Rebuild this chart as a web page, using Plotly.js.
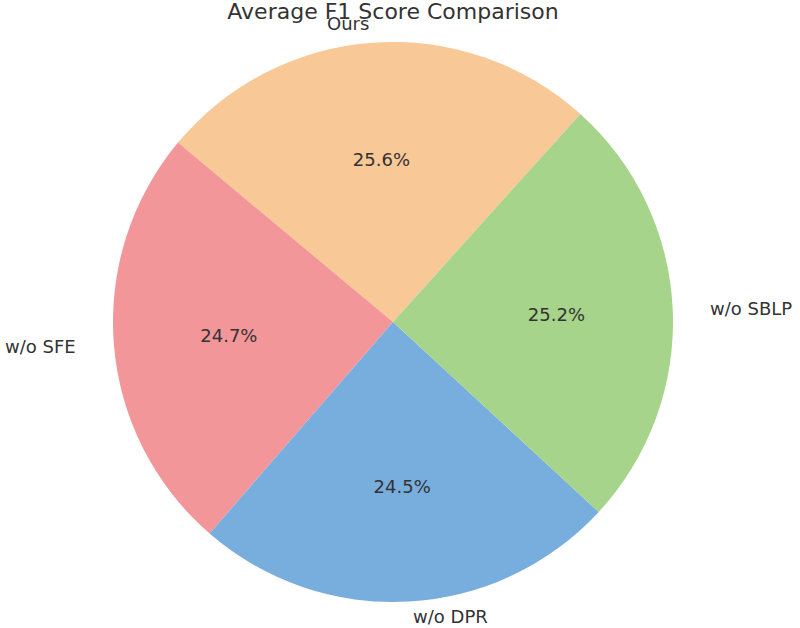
<!DOCTYPE html>
<html>
<head>
<meta charset="utf-8">
<script src="https://cdn.plot.ly/plotly-3.0.1.min.js"></script>
<style>html,body{margin:0;padding:0;background:#fff;}#chart{width:800px;height:628px;}</style>
</head>
<body>
<div id="chart"></div>
<script>
const labels = ["Ours", "w/o SFE", "w/o DPR", "w/o SBLP"];
const values = [25.6, 24.7, 24.5, 25.2];
const colors = ["#f9c897", "#f2969a", "#78aedd", "#a6d48a"];

const W = 800, H = 628;
const cx = 393, cy = 322, R = 280;
const startAngle = 48; // math angle (ccw from 3 o'clock) where first slice begins
const rx = 287, ry = 272;

const total = values.reduce((a, b) => a + b, 0);
// Plotly (counterclockwise) places the first slice so that it ends at the rotation point
const rotation = 90 - startAngle - values[0] / total * 360;

// outside labels placed at 1.1 radius along each slice's mid-angle (computed from values)
let start = startAngle;
const annotations = labels.map((lab, i) => {
  const span = values[i] / total * 360;
  const mid = (start + span / 2) * Math.PI / 180;
  start += span;
  const c = Math.cos(mid), s = Math.sin(mid);
  const px = cx + 1.1 * rx * c;
  let py = cy - 1.1 * ry * s;
  py = Math.min(Math.max(py, 12), H - 12);
  return {
    x: px / W, y: 1 - py / H, xref: "paper", yref: "paper",
    text: lab, showarrow: false,
    xanchor: c >= 0 ? "left" : "right", yanchor: "middle",
    font: {family: "DejaVu Sans", size: 18, color: "#333333"}
  };
});

const trace = {
  type: "pie",
  labels: labels,
  values: values,
  sort: false,
  direction: "counterclockwise",
  rotation: rotation,
  marker: {colors: colors, line: {width: 0}},
  textinfo: "percent",
  texttemplate: "%{percent:.1%}",
  textposition: "inside",
  insidetextorientation: "horizontal",
  textfont: {family: "DejaVu Sans", size: 18, color: "#333333"},
  showlegend: false,
  hoverinfo: "label+percent",
  domain: {x: [(cx - R) / W, (cx + R) / W], y: [1 - (cy + R) / H, 1 - (cy - R) / H]}
};

const layout = {
  width: W, height: H,
  margin: {l: 0, r: 0, t: 0, b: 0},
  paper_bgcolor: "#ffffff",
  title: {
    text: "Average F1 Score Comparison",
    x: cx / W, xref: "paper", xanchor: "center",
    y: 1 - 11 / H, yref: "container", yanchor: "middle",
    font: {family: "DejaVu Sans", size: 22, color: "#333333"}
  },
  annotations: annotations,
  showlegend: false
};

Plotly.newPlot("chart", [trace], layout, {displayModeBar: false});
</script>
</body>
</html>
